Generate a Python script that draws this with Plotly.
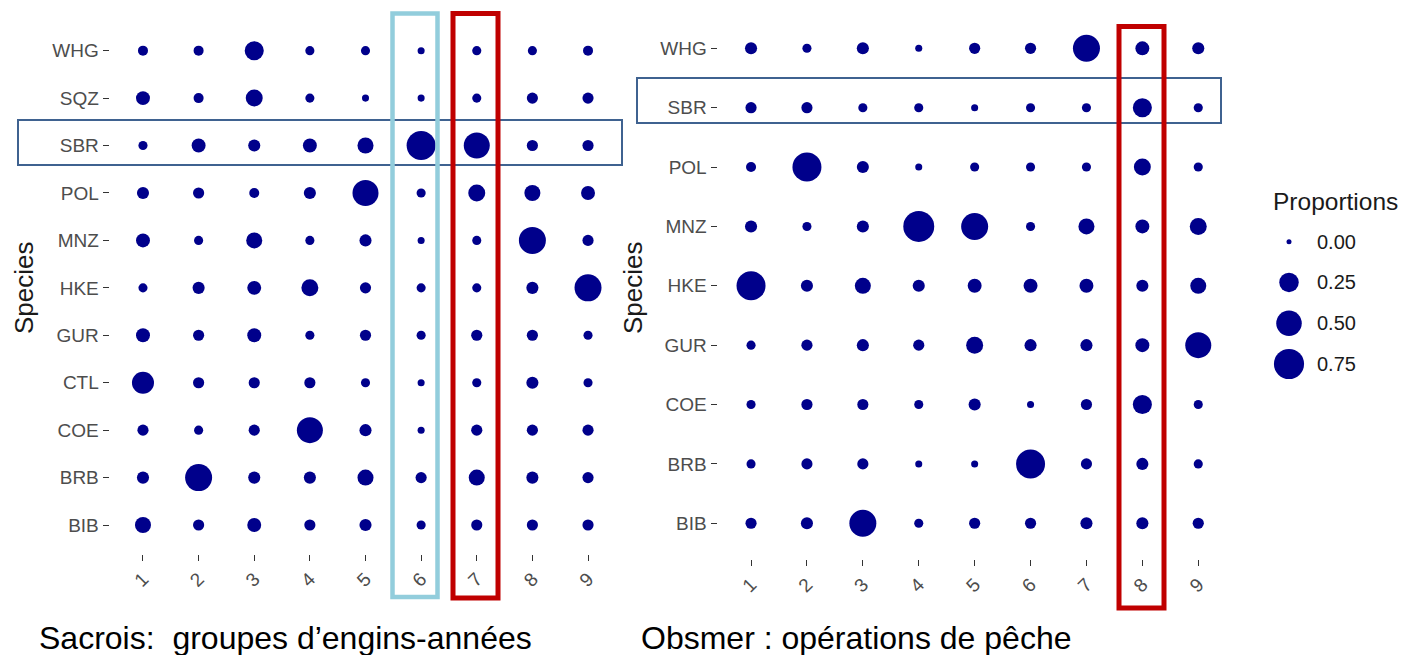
import numpy as np
import plotly.graph_objects as go

# ---------------- data ----------------
gears = [1, 2, 3, 4, 5, 6, 7, 8, 9]
gear_labels = [str(g) for g in gears]

species_sacrois = ["WHG", "SQZ", "SBR", "POL", "MNZ", "HKE", "GUR", "CTL", "COE", "BRB", "BIB"]
sacrois_props = [
    [0.030, 0.030, 0.235, 0.020, 0.020, 0.005, 0.020, 0.020, 0.030],  # WHG
    [0.095, 0.030, 0.170, 0.020, 0.005, 0.005, 0.020, 0.045, 0.045],  # SQZ
    [0.020, 0.095, 0.060, 0.095, 0.145, 0.685, 0.525, 0.045, 0.045],  # SBR
    [0.060, 0.045, 0.030, 0.060, 0.525, 0.020, 0.170, 0.145, 0.095],  # POL
    [0.095, 0.020, 0.145, 0.020, 0.060, 0.005, 0.020, 0.575, 0.045],  # MNZ
    [0.020, 0.060, 0.095, 0.170, 0.045, 0.020, 0.020, 0.060, 0.575],  # HKE
    [0.095, 0.045, 0.095, 0.020, 0.045, 0.020, 0.045, 0.045, 0.020],  # GUR
    [0.345, 0.045, 0.045, 0.045, 0.020, 0.005, 0.020, 0.060, 0.020],  # CTL
    [0.045, 0.020, 0.045, 0.525, 0.060, 0.005, 0.045, 0.045, 0.045],  # COE
    [0.060, 0.575, 0.060, 0.060, 0.145, 0.045, 0.145, 0.060, 0.045],  # BRB
    [0.145, 0.045, 0.095, 0.045, 0.060, 0.020, 0.045, 0.045, 0.045],  # BIB
]

species_obsmer = ["WHG", "SBR", "POL", "MNZ", "HKE", "GUR", "COE", "BRB", "BIB"]
obsmer_props = [
    [0.060, 0.020, 0.060, 0.005, 0.045, 0.045, 0.575, 0.095, 0.060],  # WHG
    [0.045, 0.045, 0.020, 0.020, 0.005, 0.020, 0.020, 0.235, 0.020],  # SBR
    [0.030, 0.685, 0.060, 0.005, 0.020, 0.020, 0.020, 0.170, 0.020],  # POL
    [0.060, 0.020, 0.060, 0.800, 0.575, 0.020, 0.145, 0.095, 0.170],  # MNZ
    [0.685, 0.060, 0.145, 0.060, 0.095, 0.095, 0.095, 0.060, 0.145],  # HKE
    [0.020, 0.045, 0.060, 0.045, 0.170, 0.060, 0.060, 0.095, 0.525],  # GUR
    [0.020, 0.045, 0.045, 0.020, 0.060, 0.005, 0.045, 0.235, 0.020],  # COE
    [0.020, 0.045, 0.045, 0.005, 0.005, 0.685, 0.045, 0.060, 0.020],  # BRB
    [0.045, 0.060, 0.575, 0.020, 0.045, 0.045, 0.060, 0.060, 0.045],  # BIB
]

legend_breaks = [0.0, 0.25, 0.50, 0.75]
legend_labels = ["0.00", "0.25", "0.50", "0.75"]
legend_title = "Proportions"
y_title = "Species"
caption_sacrois = "Sacrois:\u00a0 groupes d\u2019engins-ann\u00e9es"
caption_obsmer = "Obsmer : op\u00e9rations de p\u00eache"

# ---------------- helpers ----------------
W, H = 1402, 655
FONT = "Liberation Sans, Arial, sans-serif"
DOT = "#00008B"


def px_x(p):
    return p / W


def px_y(p):
    return 1 - p / H


def size_scale(p):
    # area-type size scale (like ggplot scale_size): diameter grows with sqrt
    return 5 + 29 * np.sqrt(np.asarray(p, dtype=float))


def flatten(species, props):
    xs, ys, vs = [], [], []
    for sp, row in zip(species, props):
        for g, v in zip(gears, row):
            xs.append(g)
            ys.append(sp)
            vs.append(v)
    return xs, ys, vs


fig = go.Figure()

xs, ys, vs = flatten(species_sacrois, sacrois_props)
fig.add_trace(go.Scatter(x=xs, y=ys, mode="markers", xaxis="x", yaxis="y",
                         marker=dict(size=size_scale(vs), color=DOT, opacity=1, line=dict(width=0)),
                         showlegend=False, cliponaxis=False))

xs, ys, vs = flatten(species_obsmer, obsmer_props)
fig.add_trace(go.Scatter(x=xs, y=ys, mode="markers", xaxis="x2", yaxis="y2",
                         marker=dict(size=size_scale(vs), color=DOT, opacity=1, line=dict(width=0)),
                         showlegend=False, cliponaxis=False))

# size legend drawn as its own small panel
legend_pos = list(range(len(legend_breaks)))
fig.add_trace(go.Scatter(x=[0] * len(legend_breaks), y=legend_pos, mode="markers",
                         xaxis="x3", yaxis="y3",
                         marker=dict(size=size_scale(legend_breaks), color=DOT, opacity=1,
                                     line=dict(width=0)),
                         showlegend=False, cliponaxis=False))

tickfont = dict(family=FONT, size=19, color="#4D4D4D")
common_x = dict(tickmode="array", tickvals=gears, ticktext=gear_labels, tickangle=-45,
                ticks="outside", ticklen=6, tickwidth=1, tickcolor="#333333",
                showgrid=False, zeroline=False, showline=False, tickfont=tickfont,
                range=[0.4, 9.6], fixedrange=True)
common_y = dict(type="category", categoryorder="array", ticks="outside", ticklen=6,
                tickwidth=1, tickcolor="#333333", showgrid=False, zeroline=False,
                showline=False, tickfont=tickfont, fixedrange=True)

fig.update_layout(
    width=W, height=H,
    margin=dict(l=0, r=0, t=0, b=0),
    paper_bgcolor="white", plot_bgcolor="white",
    xaxis=dict(domain=[px_x(109.6), px_x(621.4)], anchor="y", **common_x),
    yaxis=dict(domain=[px_y(553.5), px_y(22.2)], anchor="x",
               categoryarray=species_sacrois[::-1], range=[-0.6, len(species_sacrois) - 0.4],
               **common_y),
    xaxis2=dict(domain=[px_x(717.5), px_x(1231.8)], anchor="y2", **common_x),
    yaxis2=dict(domain=[px_y(558.9), px_y(12.7)], anchor="x2",
                categoryarray=species_obsmer[::-1], range=[-0.6, len(species_obsmer) - 0.4],
                **common_y),
    xaxis3=dict(domain=[px_x(1269), px_x(1309)], anchor="y3", range=[-1, 1], visible=False,
                fixedrange=True),
    yaxis3=dict(domain=[px_y(384.4), px_y(221.3)], anchor="x3",
                range=[len(legend_breaks) - 0.5, -0.5], visible=False, fixedrange=True),
)

annotations = []
# axis titles
annotations.append(dict(text=y_title, x=px_x(24), y=px_y(288), xref="paper", yref="paper",
                        textangle=-90, showarrow=False, xanchor="center", yanchor="middle",
                        font=dict(family=FONT, size=26, color="#1A1A1A")))
annotations.append(dict(text=y_title, x=px_x(633), y=px_y(288), xref="paper", yref="paper",
                        textangle=-90, showarrow=False, xanchor="center", yanchor="middle",
                        font=dict(family=FONT, size=26, color="#1A1A1A")))
# legend title and labels
annotations.append(dict(text=legend_title, x=px_x(1271), y=px_y(201), xref="paper", yref="paper",
                        showarrow=False, xanchor="left", yanchor="middle",
                        font=dict(family=FONT, size=24.5, color="#1A1A1A")))
for i, lab in zip(legend_pos, legend_labels):
    annotations.append(dict(text=lab, x=px_x(1315), y=i, xref="paper", yref="y3",
                            showarrow=False, xanchor="left", yanchor="middle",
                            font=dict(family=FONT, size=20, color="#1A1A1A")))
# captions
annotations.append(dict(text=caption_sacrois, x=px_x(37), y=px_y(638), xref="paper", yref="paper",
                        showarrow=False, xanchor="left", yanchor="middle",
                        font=dict(family=FONT, size=32, color="black")))
annotations.append(dict(text=caption_obsmer, x=px_x(639), y=px_y(638), xref="paper", yref="paper",
                        showarrow=False, xanchor="left", yanchor="middle",
                        font=dict(family=FONT, size=32, color="black")))
fig.update_layout(annotations=annotations)

BOX_DARK = "#3F6290"
RED = "#C00000"
LIGHT = "#92CDDC"


def rect(x0, x1, y0, y1, color, width):
    return dict(type="rect", xref="paper", yref="paper",
                x0=px_x(x0), x1=px_x(x1), y0=px_y(y1), y1=px_y(y0),
                line=dict(color=color, width=width), fillcolor="rgba(0,0,0,0)", layer="above")


fig.update_layout(shapes=[
    rect(18, 622, 120, 165, BOX_DARK, 2),
    rect(392.5, 437.5, 13.5, 597, LIGHT, 4.5),
    rect(453, 498, 13.5, 598, RED, 5),
    rect(637, 1221, 78, 123, BOX_DARK, 2),
    rect(1119, 1164, 26.5, 608, RED, 5),
])

fig.write_html("out.html")
